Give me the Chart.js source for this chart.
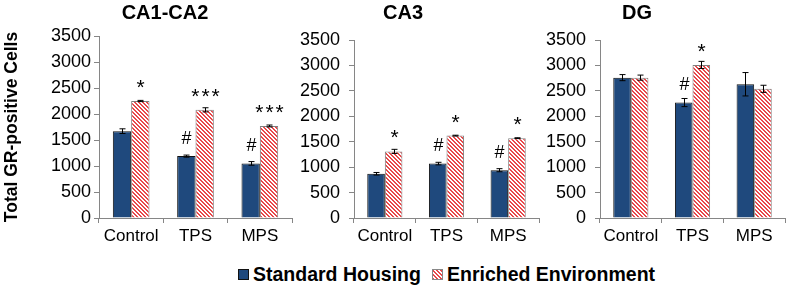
<!DOCTYPE html>
<html>
<head>
<meta charset="utf-8">
<script src="https://cdn.jsdelivr.net/npm/chart.js@4.4.1/dist/chart.umd.min.js"></script>
<style>
  body { margin: 0; background: #fff; width: 787px; height: 289px; overflow: hidden; position: relative; font-family: "Liberation Sans", Arial, sans-serif; }
  canvas.panel { position: absolute; top: 0; }
  .leg { position: absolute; top: 263px; font-weight: bold; font-size: 19.5px; line-height: 22px; color: #000; white-space: nowrap; }
  .sw { position: absolute; width: 9px; height: 9px; top: 269px; }
</style>
</head>
<body>
<canvas id="c1" class="panel" style="left:0px" width="300" height="250"></canvas>
<canvas id="c2" class="panel" style="left:300px" width="245" height="250"></canvas>
<canvas id="c3" class="panel" style="left:545px" width="242" height="250"></canvas>

<div class="sw" style="left:238px; background:#1f497d; border:1px solid #111;"></div>
<div class="leg" style="left:253px">Standard Housing</div>
<div class="sw" style="left:432px; border:1px solid #888; background: repeating-linear-gradient(45deg, #e8484b 0 1.4px, #fff 1.4px 2.8px);"></div>
<div class="leg" style="left:447px">Enriched Environment</div>

<script>
const categories = ['Control', 'TPS', 'MPS'];
const regionTitles = ['CA1-CA2', 'CA3', 'DG'];
const seriesNames = ['Standard Housing', 'Enriched Environment'];
const yMax = 3500;
const yStep = 500;

// CA1-CA2
const standardCA1 = [1670, 1190, 1050];
const standardCA1Err = [45, 20, 35];
const enrichedCA1 = [2250, 2080, 1770];
const enrichedCA1Err = [12, 40, 18];
const standardCA1Marks = ['', '#', '#'];
const enrichedCA1Marks = ['*', '***', '***'];

// CA3
const standardCA3 = [870, 1070, 940];
const standardCA3Err = [25, 25, 30];
const enrichedCA3 = [1310, 1620, 1570];
const enrichedCA3Err = [40, 8, 8];
const standardCA3Marks = ['', '#', '#'];
const enrichedCA3Marks = ['*', '*', '*'];

// DG
const standardDG = [2760, 2270, 2630];
const standardDGErr = [60, 80, 230];
const enrichedDG = [2760, 3010, 2540];
const enrichedDGErr = [50, 70, 70];
const standardDGMarks = ['', '#', ''];
const enrichedDGMarks = ['', '*', ''];

const FONT = '"Liberation Sans", Arial, sans-serif';
const AXIS = '#868686';

function hatchPattern() {
    const c = document.createElement('canvas');
    c.width = 4; c.height = 4;
    const g = c.getContext('2d');
    g.fillStyle = '#fff';
    g.fillRect(0, 0, 4, 4);
    g.fillStyle = '#e8484b';
    for (let i = 0; i < 4; i++) {
        g.fillRect(i, i, 1, 1);
        g.fillRect((i + 1) % 4, i, 1, 1);
    }
    return g.createPattern(c, 'repeat');
}

const errorBars = {
    id: 'errorBars',
    afterDatasetsDraw(chart) {
        const ctx = chart.ctx;
        const y = chart.scales.y;
        chart.data.datasets.forEach((ds, i) => {
            const meta = chart.getDatasetMeta(i);
            meta.data.forEach((bar, j) => {
                const v = ds.data[j];
                const e = ds.errors[j];
                const top = y.getPixelForValue(v + e);
                const bot = y.getPixelForValue(v - e);
                const x = Math.round(bar.x) + 0.5;
                ctx.save();
                ctx.strokeStyle = '#000';
                ctx.lineWidth = 1;
                ctx.beginPath();
                ctx.moveTo(x, top); ctx.lineTo(x, bot);
                ctx.moveTo(x - 3, top); ctx.lineTo(x + 3, top);
                ctx.moveTo(x - 3, bot); ctx.lineTo(x + 3, bot);
                ctx.stroke();

                const mark = ds.marks[j];
                if (mark) {
                    const c = y.getPixelForValue(v) - 19;
                    ctx.fillStyle = '#000';
                    ctx.textAlign = 'center';
                    ctx.textBaseline = 'alphabetic';
                    if (mark[0] === '*') {
                        ctx.font = '21px ' + FONT;
                        ctx.letterSpacing = mark.length > 1 ? '2px' : '0px';
                        ctx.fillText(mark, x + (mark.length > 1 ? 1 : 0), c + 21 * 0.57);
                    } else {
                        ctx.font = '18px ' + FONT;
                        ctx.fillText(mark, x, c + 18 * 0.36);
                    }
                }
                ctx.restore();
            });
        });
    }
};

const panelTitle = {
    id: 'panelTitle',
    afterDraw(chart, args, opts) {
        const ctx = chart.ctx;
        ctx.save();
        ctx.font = 'bold 20px ' + FONT;
        ctx.fillStyle = '#000';
        ctx.textAlign = 'center';
        ctx.textBaseline = 'middle';
        ctx.fillText(opts.text, opts.x, 13);
        ctx.restore();
    }
};

function makePanel(id, title, titleX, sh, shErr, shMarks, ee, eeErr, eeMarks, axisWidth, top, right, tickPad, withYTitle) {
    const ctx = document.getElementById(id).getContext('2d');
    new Chart(ctx, {
        type: 'bar',
        data: {
            labels: categories,
            datasets: [{
                label: seriesNames[0],
                data: sh,
                errors: shErr,
                marks: shMarks,
                backgroundColor: '#1f497d',
                borderColor: '#111',
                borderWidth: 1,
                categoryPercentage: 0.57,
                barPercentage: 1
            }, {
                label: seriesNames[1],
                data: ee,
                errors: eeErr,
                marks: eeMarks,
                backgroundColor: hatchPattern(),
                borderColor: '#7f7f7f',
                borderWidth: 1,
                categoryPercentage: 0.57,
                barPercentage: 1
            }]
        },
        options: {
            responsive: false,
            animation: false,
            layout: { padding: { top: top, right: right, bottom: 7, left: 0 } },
            plugins: {
                legend: { display: false },
                tooltip: { enabled: false },
                panelTitle: { text: title, x: titleX }
            },
            scales: {
                x: {
                    grid: { drawOnChartArea: false, color: AXIS, tickLength: 5, offset: true },
                    border: { color: AXIS },
                    ticks: { color: '#000', font: { family: FONT, size: 17 }, padding: 3 },
                    afterFit(scale) { scale.height = 25; }
                },
                y: {
                    min: 0,
                    max: yMax,
                    ticks: {
                        stepSize: yStep,
                        color: '#000',
                        font: { family: FONT, size: 18 },
                        padding: tickPad,
                        callback: v => String(v)
                    },
                    grid: { drawOnChartArea: false, color: AXIS, tickLength: 5 },
                    border: { color: AXIS },
                    title: {
                        display: withYTitle,
                        text: 'Total GR-positive Cells',
                        color: '#000',
                        font: { family: FONT, size: 17.5, weight: 'bold' },
                        padding: { top: 2, bottom: 0 }
                    },
                    afterFit(scale) { scale.width = axisWidth; }
                }
            }
        },
        plugins: [errorBars, panelTitle]
    });
}

makePanel('c1', regionTitles[0], 165, standardCA1, standardCA1Err, standardCA1Marks,
    enrichedCA1, enrichedCA1Err, enrichedCA1Marks, 99, 36, 8, 3, true);
makePanel('c2', regionTitles[1], 103, standardCA3, standardCA3Err, standardCA3Marks,
    enrichedCA3, enrichedCA3Err, enrichedCA3Marks, 54, 40, 6, 9, false);
makePanel('c3', regionTitles[2], 92, standardDG, standardDGErr, standardDGMarks,
    enrichedDG, enrichedDGErr, enrichedDGMarks, 55, 40, 2, 9, false);
</script>
</body>
</html>
